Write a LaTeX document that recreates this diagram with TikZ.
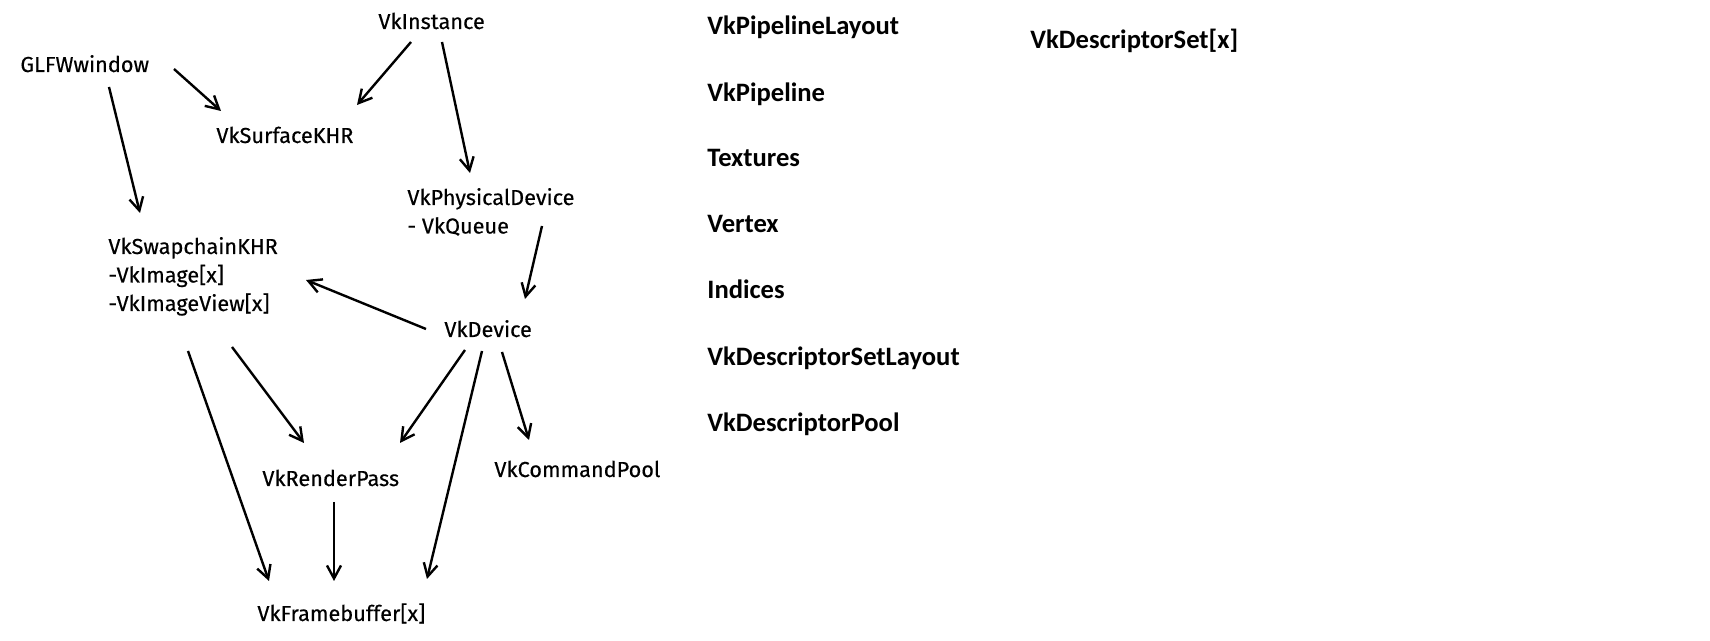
\documentclass[tikz,border=0pt]{standalone}
\usepackage{fontspec}
\newfontfamily\leftfont{Fira Sans}[FakeBold=0.35]
\newfontfamily\rightfont{Carlito}
\usetikzlibrary{arrows.meta}
\begin{document}
\begin{tikzpicture}[x=0.5pt,y=-0.5pt,
  lbl/.style={inner sep=0pt,anchor=base west,font=\leftfont\fontsize{10.85pt}{14.25pt}\selectfont},
  rlbl/.style={inner sep=0pt,anchor=base west,font=\rightfont\bfseries\fontsize{13.3pt}{15pt}\selectfont},
  conn/.style={line width=1.2pt,-{Straight Barb[length=6.5pt,width=7pt,line width=1.2pt]}}]
\useasboundingbox (0,0) rectangle (1710,641);
% left graph
\node[lbl] (inst) at (378,29) {VkInstance};
\node[lbl] (glfw) at (20,72) {GLFWwindow};
\node[lbl] (surf) at (216,143) {VkSurfaceKHR};
\node[lbl] (phys) at (407,205) {\begin{tabular}[t]{@{}l@{}}VkPhysicalDevice\\- VkQueue\end{tabular}};
\node[lbl] (swap) at (108,254) {\begin{tabular}[t]{@{}l@{}}VkSwapchainKHR\\-VkImage[x]\\-VkImageView[x]\end{tabular}};
\node[lbl] (dev) at (444,337) {VkDevice};
\node[lbl] (rp) at (262,486) {VkRenderPass};
\node[lbl] (cmd) at (494,477) {VkCommandPool};
\node[lbl] (fb) at (257,621) {VkFramebuffer[x]};
% right list
\node[rlbl] (pl) at (707,35) {VkPipelineLayout};
\node[rlbl] (pipe) at (707,102) {VkPipeline};
\node[rlbl] (tex) at (707,167) {Textures};
\node[rlbl] (vert) at (707,233) {Vertex};
\node[rlbl] (ind) at (707,299) {Indices};
\node[rlbl] (dsl) at (707,366) {VkDescriptorSetLayout};
\node[rlbl] (dp) at (707,432) {VkDescriptorPool};
\node[rlbl] (ds) at (1030,49) {VkDescriptorSet[x]};
% connectors
\draw[conn] ([shift={(154,-3)}]glfw.base west) -- ([shift={(5,-32)}]surf.base west);
\draw[conn] ([shift={(33,13)}]inst.base west) -- ([shift={(141,-38)}]surf.base west);
\draw[conn] ([shift={(64,13)}]inst.base west) -- ([shift={(63,-32)}]phys.base west);
\draw[conn] ([shift={(89,15)}]glfw.base west) -- ([shift={(32,-41)}]swap.base west);
\draw[conn] ([shift={(135,21)}]phys.base west) -- ([shift={(81,-38)}]dev.base west);
\draw[conn] ([shift={(-18,-8)}]dev.base west) -- ([shift={(198,26)}]swap.base west);
\draw[conn] ([shift={(80,97)}]swap.base west) -- ([shift={(12,-40)}]fb.base west);
\draw[conn] ([shift={(124,93)}]swap.base west) -- ([shift={(42,-43)}]rp.base west);
\draw[conn] ([shift={(21,13)}]dev.base west) -- ([shift={(138,-43)}]rp.base west);
\draw[conn] ([shift={(38,14)}]dev.base west) -- ([shift={(170,-42)}]fb.base west);
\draw[conn] ([shift={(58,15)}]dev.base west) -- ([shift={(35,-37)}]cmd.base west);
\draw[conn] ([shift={(72,16)}]rp.base west) -- ([shift={(77,-40)}]fb.base west);
\end{tikzpicture}
\end{document}
